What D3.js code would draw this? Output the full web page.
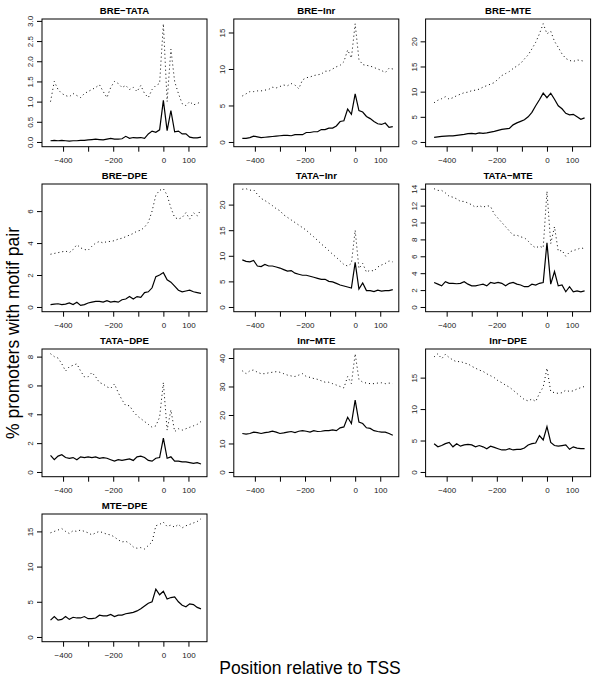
<!DOCTYPE html>
<html>
<head>
<meta charset="utf-8">
<script src="https://cdn.jsdelivr.net/npm/d3@7"></script>
<style>
  html, body { margin: 0; padding: 0; background: #fff; }
  svg { display: block; font-family: "Liberation Sans", Arial, Helvetica, sans-serif; }
</style>
</head>
<body>
<svg id="chart" width="600" height="686"></svg>
<script>
// ---------------- DATA ----------------
const positions = [-450,-435,-420,-405,-390,-375,-360,-345,-330,-315,-300,-285,-270,-255,-240,-225,-210,-195,-180,-165,-150,-135,-120,-105,-90,-75,-60,-45,-30,-15,0,15,30,45,60,75,90,105,120,135,150];

const panelNames = ["BRE\u2212TATA","BRE\u2212Inr","BRE\u2212MTE","BRE\u2212DPE","TATA\u2212Inr","TATA\u2212MTE","TATA\u2212DPE","Inr\u2212MTE","Inr\u2212DPE","MTE\u2212DPE"];

const breTataSolid  = [0.03,0.04,0.03,0.04,0.03,0.02,0.03,0.03,0.04,0.04,0.05,0.06,0.07,0.06,0.05,0.07,0.09,0.07,0.07,0.08,0.14,0.09,0.11,0.10,0.11,0.09,0.20,0.27,0.24,0.30,1.03,0.28,0.78,0.25,0.27,0.20,0.20,0.12,0.10,0.10,0.12];
const breTataDotted = [1.0,1.5,1.3,1.2,1.15,1.12,1.2,1.15,1.1,1.2,1.25,1.3,1.35,1.42,1.25,1.1,1.35,1.5,1.45,1.35,1.4,1.3,1.35,1.25,1.4,1.2,1.1,1.3,1.4,1.45,2.93,1.0,2.3,1.5,1.2,0.95,0.9,1.0,0.92,0.95,1.0];

const breInrSolid  = [0.5,0.5,0.6,0.8,0.7,0.6,0.65,0.7,0.75,0.8,0.85,0.9,0.9,0.85,1.0,1.0,1.0,1.3,1.3,1.4,1.4,1.7,1.7,1.9,1.9,2.2,2.8,2.9,4.5,3.8,6.6,4.3,4.1,3.5,3.2,2.8,2.5,2.4,2.6,2.0,2.1];
const breInrDotted = [6.3,6.6,6.9,6.9,7.0,7.0,7.1,7.2,7.5,7.4,7.6,7.8,7.7,8.0,7.8,7.3,8.5,8.8,8.9,9.1,9.2,9.3,9.7,9.7,10.0,10.3,10.5,11.0,12.6,11.5,16.2,11.3,10.6,10.5,10.4,10.2,10.0,9.8,9.5,10.1,10.0];

const breMteSolid  = [0.9,1.0,1.1,1.15,1.2,1.2,1.3,1.4,1.5,1.65,1.7,1.6,1.8,1.7,1.8,1.95,2.1,2.3,2.5,2.6,2.7,3.4,3.8,4.1,4.4,5.0,5.9,7.2,8.4,9.7,8.8,9.7,8.5,7.2,6.6,5.7,5.4,5.5,5.0,4.5,4.8];
const breMteDotted = [7.8,8.3,8.6,9.0,8.5,8.8,9.2,9.5,9.8,9.9,10.2,10.3,10.5,10.9,11.2,11.5,11.8,12.5,13.2,13.6,14.0,14.6,15.1,15.6,16.5,17.3,18.5,19.8,21.5,23.5,21.5,22.0,20.0,18.8,17.5,16.6,16.2,16.0,16.3,16.2,16.0];

const breDpeSolid  = [0.15,0.18,0.2,0.15,0.18,0.25,0.15,0.3,0.1,0.15,0.25,0.3,0.35,0.35,0.3,0.4,0.3,0.35,0.3,0.45,0.5,0.65,0.5,0.65,0.6,0.9,0.95,1.2,1.9,2.0,2.15,1.7,1.55,1.3,1.05,0.95,1.0,1.05,0.95,0.9,0.85];
const breDpeDotted = [3.3,3.35,3.4,3.45,3.5,3.4,3.6,3.9,3.7,3.6,3.55,3.8,4.0,4.1,4.0,4.1,4.1,4.15,4.25,4.3,4.4,4.5,4.6,4.75,4.8,5.0,5.3,6.0,7.0,7.3,7.4,7.0,6.2,5.6,5.5,5.6,5.9,5.5,5.9,5.7,6.1];

const tataInrSolid  = [9.2,8.9,8.8,9.1,8.0,7.9,8.3,8.0,8.0,7.8,7.6,7.3,7.0,7.1,6.6,6.4,6.2,6.2,6.0,5.8,5.6,5.4,5.4,5.0,4.9,4.6,4.3,4.1,3.9,3.7,8.7,3.5,4.7,3.2,3.2,3.0,3.3,3.1,3.2,3.2,3.4];
const tataInrDotted = [23.0,23.1,22.8,22.9,22.0,21.2,20.8,20.3,19.8,19.2,18.8,18.0,17.5,17.0,16.5,16.0,15.5,15.0,14.3,13.7,13.0,12.3,11.7,11.0,10.3,9.7,9.0,8.3,8.0,8.5,15.0,7.5,8.5,6.8,7.2,7.0,7.8,8.2,8.5,9.0,8.8];

const tataMteSolid  = [2.9,2.7,2.5,3.0,2.8,2.8,2.75,2.8,3.0,2.7,2.5,2.5,2.6,2.7,2.5,2.9,2.8,2.9,2.8,2.5,2.8,2.9,2.7,2.6,2.4,2.4,2.7,2.6,2.8,2.9,7.6,2.7,4.2,2.5,2.6,1.8,2.4,1.8,1.9,1.8,1.9];
const tataMteDotted = [14.0,13.8,13.8,13.5,13.1,13.0,12.8,12.5,12.5,12.3,12.1,11.8,12.0,11.8,12.0,11.9,11.0,10.5,10.0,9.5,9.0,8.5,8.5,8.3,8.2,7.8,7.3,7.0,7.2,7.0,13.7,7.5,9.5,6.6,6.7,6.0,6.5,6.7,6.8,7.0,6.9];

const tataDpeSolid  = [1.15,0.85,1.1,1.2,1.0,0.95,1.0,0.85,1.05,1.0,1.05,1.0,1.05,0.95,1.0,0.95,0.85,0.75,0.85,0.8,0.85,0.9,0.8,1.05,1.1,1.0,0.8,0.75,0.95,1.0,2.35,0.95,1.05,0.75,0.75,0.7,0.7,0.65,0.6,0.65,0.55];
const tataDpeDotted = [8.2,8.0,7.9,7.5,7.0,7.3,7.4,7.5,7.0,6.6,6.6,6.9,6.6,6.2,6.1,5.9,5.8,6.1,5.5,5.0,4.6,4.6,4.2,3.9,3.7,3.5,3.3,3.1,3.2,3.8,6.2,2.9,4.3,2.8,3.0,2.9,3.0,3.1,3.2,3.3,3.5];

const inrMteSolid  = [13.5,13.3,13.5,14.0,13.8,13.5,13.8,14.0,14.3,14.0,13.5,13.7,14.0,14.2,13.8,14.3,14.5,14.3,14.0,14.5,14.2,14.3,14.5,14.5,14.8,14.5,15.5,15.8,19.2,17.0,25.2,17.5,17.0,15.5,15.3,14.5,14.2,14.0,14.0,13.5,12.9];
const inrMteDotted = [35.5,34.5,35.5,35.8,35.0,34.5,34.5,34.8,35.0,35.2,35.0,34.5,34.0,33.7,33.5,34.0,34.5,33.5,33.2,32.8,32.5,32.0,31.5,31.5,31.0,30.5,30.0,29.5,33.5,31.0,41.5,32.5,31.5,31.2,31.0,31.0,31.2,31.3,31.0,31.2,31.0];

const inrDpeSolid  = [4.5,4.0,4.2,4.5,4.7,4.0,4.5,4.1,4.3,4.4,4.3,4.0,4.2,4.0,3.7,4.1,3.9,3.7,3.5,3.5,3.7,3.5,3.6,3.6,3.8,4.3,4.5,4.6,5.8,5.1,7.2,4.7,4.2,4.1,4.2,4.3,3.6,4.0,3.8,3.7,3.7];
const inrDpeDotted = [18.3,18.8,18.0,18.7,18.2,17.8,17.5,17.6,17.3,17.2,16.8,16.5,16.2,16.0,15.6,15.3,15.0,14.5,14.2,13.8,13.5,13.0,12.5,12.0,11.5,11.3,11.6,11.2,12.5,13.5,16.5,12.8,12.6,12.5,12.6,13.0,12.8,12.9,13.2,13.4,13.6];

const mteDpeSolid  = [2.4,2.9,2.4,2.5,2.9,2.5,2.8,2.7,2.7,2.9,2.6,2.6,2.7,3.1,3.0,3.0,3.2,2.9,3.1,3.1,3.3,3.4,3.5,3.7,4.0,4.4,4.8,5.0,6.8,6.0,6.5,5.4,5.6,5.7,5.0,4.5,4.3,4.7,4.6,4.2,4.0];
const mteDpeDotted = [14.8,15.0,15.2,15.4,15.0,14.7,15.1,15.0,15.2,15.0,14.8,14.5,14.8,15.0,14.8,14.6,14.5,14.2,13.8,13.5,13.6,13.3,12.8,12.6,12.7,12.5,13.0,13.5,15.8,16.0,16.3,15.7,15.9,15.6,16.0,15.5,15.8,16.0,16.2,16.4,16.8];

const xTicks = [-400,-300,-200,-100,0,100];
const xTickLabels = ["\u2212400","","\u2212200","","0","100"];

const yTicksBreTata = [0,0.5,1,1.5,2,2.5,3];
const yTickLabelsBreTata = ["0.0","0.5","1.0","1.5","2.0","2.5","3.0"];
const yTicksBreInr = [0,5,10,15];
const yTicksBreMte = [0,5,10,15,20];
const yTicksBreDpe = [0,2,4,6];
const yTicksTataInr = [0,5,10,15,20];
const yTicksTataMte = [0,2,4,6,8,10,12,14];
const yTicksTataDpe = [0,2,4,6,8];
const yTicksInrMte = [0,10,20,30,40];
const yTicksInrDpe = [0,5,10,15];
const yTicksMteDpe = [0,5,10,15];

const yAxisTitle = "% promoters with motif pair";
const xAxisTitle = "Position relative to TSS";

// ---------------- BUILD ----------------
const panels = [
  {name: panelNames[0], solid: breTataSolid, dotted: breTataDotted, ticks: yTicksBreTata, labels: yTickLabelsBreTata},
  {name: panelNames[1], solid: breInrSolid,  dotted: breInrDotted,  ticks: yTicksBreInr},
  {name: panelNames[2], solid: breMteSolid,  dotted: breMteDotted,  ticks: yTicksBreMte},
  {name: panelNames[3], solid: breDpeSolid,  dotted: breDpeDotted,  ticks: yTicksBreDpe},
  {name: panelNames[4], solid: tataInrSolid, dotted: tataInrDotted, ticks: yTicksTataInr},
  {name: panelNames[5], solid: tataMteSolid, dotted: tataMteDotted, ticks: yTicksTataMte},
  {name: panelNames[6], solid: tataDpeSolid, dotted: tataDpeDotted, ticks: yTicksTataDpe},
  {name: panelNames[7], solid: inrMteSolid,  dotted: inrMteDotted,  ticks: yTicksInrMte},
  {name: panelNames[8], solid: inrDpeSolid,  dotted: inrDpeDotted,  ticks: yTicksInrDpe},
  {name: panelNames[9], solid: mteDpeSolid,  dotted: mteDpeDotted,  ticks: yTicksMteDpe}
];

const svg = d3.select("#chart");
const firstBoxLeft = 42, colW = 191.8, rowH = 165;
const boxW = 165, boxOffY = 19, boxH = 127.7;
const xDomain = [-484, 174];

panels.forEach((p, i) => {
  const col = i % 3, row = Math.floor(i / 3);
  const left = firstBoxLeft + col * colW;
  const top = row * rowH + boxOffY;
  const g = svg.append("g").attr("transform", `translate(${left},${top})`);

  const x = d3.scaleLinear().domain(xDomain).range([0, boxW]);
  const ymax = d3.max(p.solid.concat(p.dotted));
  const y = d3.scaleLinear().domain([-0.04 * ymax, 1.04 * ymax]).range([boxH, 0]);

  // lines
  const line = d3.line().x((d, k) => x(positions[k])).y(d => y(d));
  g.append("path").datum(p.dotted).attr("d", line)
    .attr("fill", "none").attr("stroke", "#000").attr("stroke-width", 1)
    .attr("stroke-dasharray", "1,3");
  g.append("path").datum(p.solid).attr("d", line)
    .attr("fill", "none").attr("stroke", "#000").attr("stroke-width", 1.2);

  // box
  g.append("rect").attr("x", 0).attr("y", 0).attr("width", boxW).attr("height", boxH)
    .attr("fill", "none").attr("stroke", "#000").attr("stroke-width", 1);

  // x axis
  const xa = g.append("g").attr("transform", `translate(0,${boxH})`)
    .call(d3.axisBottom(x).tickValues(xTicks).tickSize(5).tickSizeOuter(0)
      .tickFormat((d, k) => xTickLabels[k]));
  xa.select(".domain").remove();
  xa.selectAll("text").attr("font-size", 8).attr("font-family", null).attr("fill", "#222").attr("y", 11).attr("dy", "0.71em");

  // y axis
  const fmt = p.labels ? ((d, k) => p.labels[k]) : (d => String(d));
  const ya = g.append("g")
    .call(d3.axisLeft(y).tickValues(p.ticks).tickSize(5).tickSizeOuter(0).tickFormat(fmt));
  ya.select(".domain").remove();
  ya.selectAll("text")
    .attr("font-size", 8).attr("font-family", null).attr("fill", "#222")
    .attr("text-anchor", "middle")
    .attr("transform", "rotate(-90)")
    .attr("x", 0).attr("y", -9).attr("dy", 0);

  // title
  g.append("text").attr("x", boxW / 2).attr("y", -5.5)
    .attr("text-anchor", "middle").attr("font-weight", "bold").attr("font-size", 9.6)
    .text(p.name);
});

// outer titles
svg.append("text").attr("x", 310).attr("y", 674)
  .attr("text-anchor", "middle").attr("font-size", 17.5).text(xAxisTitle);
svg.append("text").attr("transform", "translate(19,333) rotate(-90)")
  .attr("text-anchor", "middle").attr("font-size", 17.5).text(yAxisTitle);
</script>
</body>
</html>
